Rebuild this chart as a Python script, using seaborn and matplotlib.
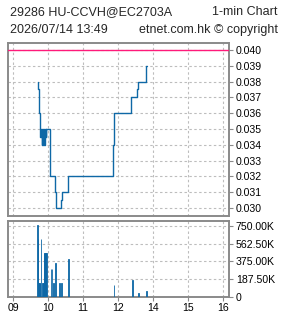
import matplotlib
matplotlib.use("Agg")
import matplotlib.pyplot as plt
import seaborn as sns
import pandas as pd
from matplotlib.ticker import FixedLocator, FixedFormatter

# ---------------- data ----------------
title_left = "29286 HU-CCVH@EC2703A"
title_right = "1-min Chart"
subtitle_left = "2026/07/14 13:49"
subtitle_right = "etnet.com.hk \u00a9 copyright"

price_times = ["09:42", "09:43", "09:44", "09:45", "09:46", "09:47", "09:48",
               "09:49", "09:50", "09:51", "09:52", "09:53", "09:54", "09:55",
               "09:56", "09:57", "10:03", "10:12", "10:13", "10:22", "10:24",
               "10:35", "11:52", "11:53", "13:22", "13:32", "13:35", "13:48",
               "13:49"]
price_values = [0.038, 0.0375, 0.037, 0.036, 0.035, 0.0345, 0.035,
                0.034, 0.0345, 0.034, 0.035, 0.034, 0.0345, 0.035,
                0.0345, 0.035, 0.032, 0.031, 0.030, 0.0305, 0.031,
                0.032, 0.034, 0.036, 0.037, 0.0375, 0.038, 0.039,
                0.039]
ref_price = 0.040

vol_times = ["09:42", "09:43", "09:44", "09:45", "09:46", "09:48", "09:51",
             "09:52", "09:53", "09:54", "09:55", "09:56", "09:57", "10:05",
             "10:07", "10:09", "10:13", "10:20", "10:23", "10:35", "11:53",
             "13:25", "13:35", "13:49"]
vol_values = [760000, 610000, 150000, 150000, 150000, 610000, 150000,
              150000, 460000, 460000, 460000, 460000, 460000, 300000,
              300000, 150000, 360000, 150000, 150000, 405000, 122000,
              175000, 39000, 60000]

price_ticks = [0.030, 0.031, 0.032, 0.033, 0.034, 0.035, 0.036, 0.037, 0.038, 0.039, 0.040]
price_tick_labels = ["0.030", "0.031", "0.032", "0.033", "0.034", "0.035",
                     "0.036", "0.037", "0.038", "0.039", "0.040"]
vol_ticks = [0, 187500, 375000, 562500, 750000]
vol_tick_labels = ["0", "187.50K", "375.00K", "562.50K", "750.00K"]
hour_labels = ["09", "10", "11", "12", "14", "15", "16"]


def trading_pos(t):
    """clock time -> position on a trading axis with lunch (12:00-13:00) removed"""
    h, m = map(int, t.split(":"))
    v = h + m / 60.0
    return v - 1.0 if v >= 13 else v


def hour_pos(lbl):
    return trading_pos(lbl + ":00")


price_df = pd.DataFrame({"t": [trading_pos(t) for t in price_times], "price": price_values})
vol_df = pd.DataFrame({"t": [trading_pos(t) for t in vol_times], "vol": vol_values})

# ---------------- style ----------------
sns.set_theme(style="white")
plt.rcParams["font.family"] = ["Liberation Sans", "DejaVu Sans"]

LINE = "#0e68a6"
RED = "#ff1a7a"
SPINE = "#8a8a8a"
GRID = "#bdbdbd"
W, H = 285, 318

fig = plt.figure(figsize=(W / 100, H / 100), dpi=100)
fig.patch.set_facecolor("white")


def rect(l, t, r, b):
    return [l / W, 1 - b / H, (r - l) / W, (b - t) / H]


ax1 = fig.add_axes(rect(8, 43, 229, 216))
ax2 = fig.add_axes(rect(8, 221, 229, 297))

xmin, xmax = 8.857, 15.171
xt = [hour_pos(h) for h in hour_labels]

for ax in (ax1, ax2):
    ax.set_facecolor("white")
    for s in ax.spines.values():
        s.set_color(SPINE)
        s.set_linewidth(1.4)
    ax.set_xlim(xmin, xmax)
    ax.xaxis.set_major_locator(FixedLocator(xt))
    ax.grid(True, color=GRID, linestyle=(0, (2.2, 2.2)), linewidth=0.8)
    ax.yaxis.tick_right()
    ax.tick_params(axis="y", which="both", right=True, left=False, length=3,
                   width=0.8, color=SPINE, pad=2, labelsize=7.6, labelcolor="black")
    ax.set_xlabel("")
    ax.set_ylabel("")

# ---- price panel ----
ax1.axhline(ref_price, color=RED, linewidth=1.0, zorder=3)
sns.lineplot(data=price_df, x="t", y="price", ax=ax1, color=LINE,
             linewidth=1.0, drawstyle="steps-post", zorder=4)
ax1.set_ylim(0.02949, 0.04044)
ax1.yaxis.set_major_locator(FixedLocator(price_ticks))
ax1.yaxis.set_major_formatter(FixedFormatter(price_tick_labels))
ax1.tick_params(axis="x", bottom=False, labelbottom=False)
ax1.set_xlabel("")
ax1.set_ylabel("")

# ---- volume panel ----
ax2.bar(vol_df["t"], vol_df["vol"], width=1 / 60, color=LINE,
        edgecolor=LINE, linewidth=0.6, zorder=3)
ax2.set_ylim(0, 802000)
ax2.yaxis.set_major_locator(FixedLocator(vol_ticks))
ax2.yaxis.set_major_formatter(FixedFormatter(vol_tick_labels))
ax2.xaxis.set_major_formatter(FixedFormatter(hour_labels))
ax2.tick_params(axis="x", bottom=True, length=3, width=0.8, color=SPINE,
                pad=1.5, labelsize=7.6, labelcolor="black")

# ---- titles ----
fs = 9.0
fig.text(10 / W, 1 - 12 / H, title_left, ha="left", va="center", fontsize=fs)
fig.text(278 / W, 1 - 12 / H, title_right, ha="right", va="center", fontsize=fs)
fig.text(10 / W, 1 - 30 / H, subtitle_left, ha="left", va="center", fontsize=fs)
fig.text(278 / W, 1 - 30 / H, subtitle_right, ha="right", va="center", fontsize=fs)

fig.savefig("out.png", dpi=100)
